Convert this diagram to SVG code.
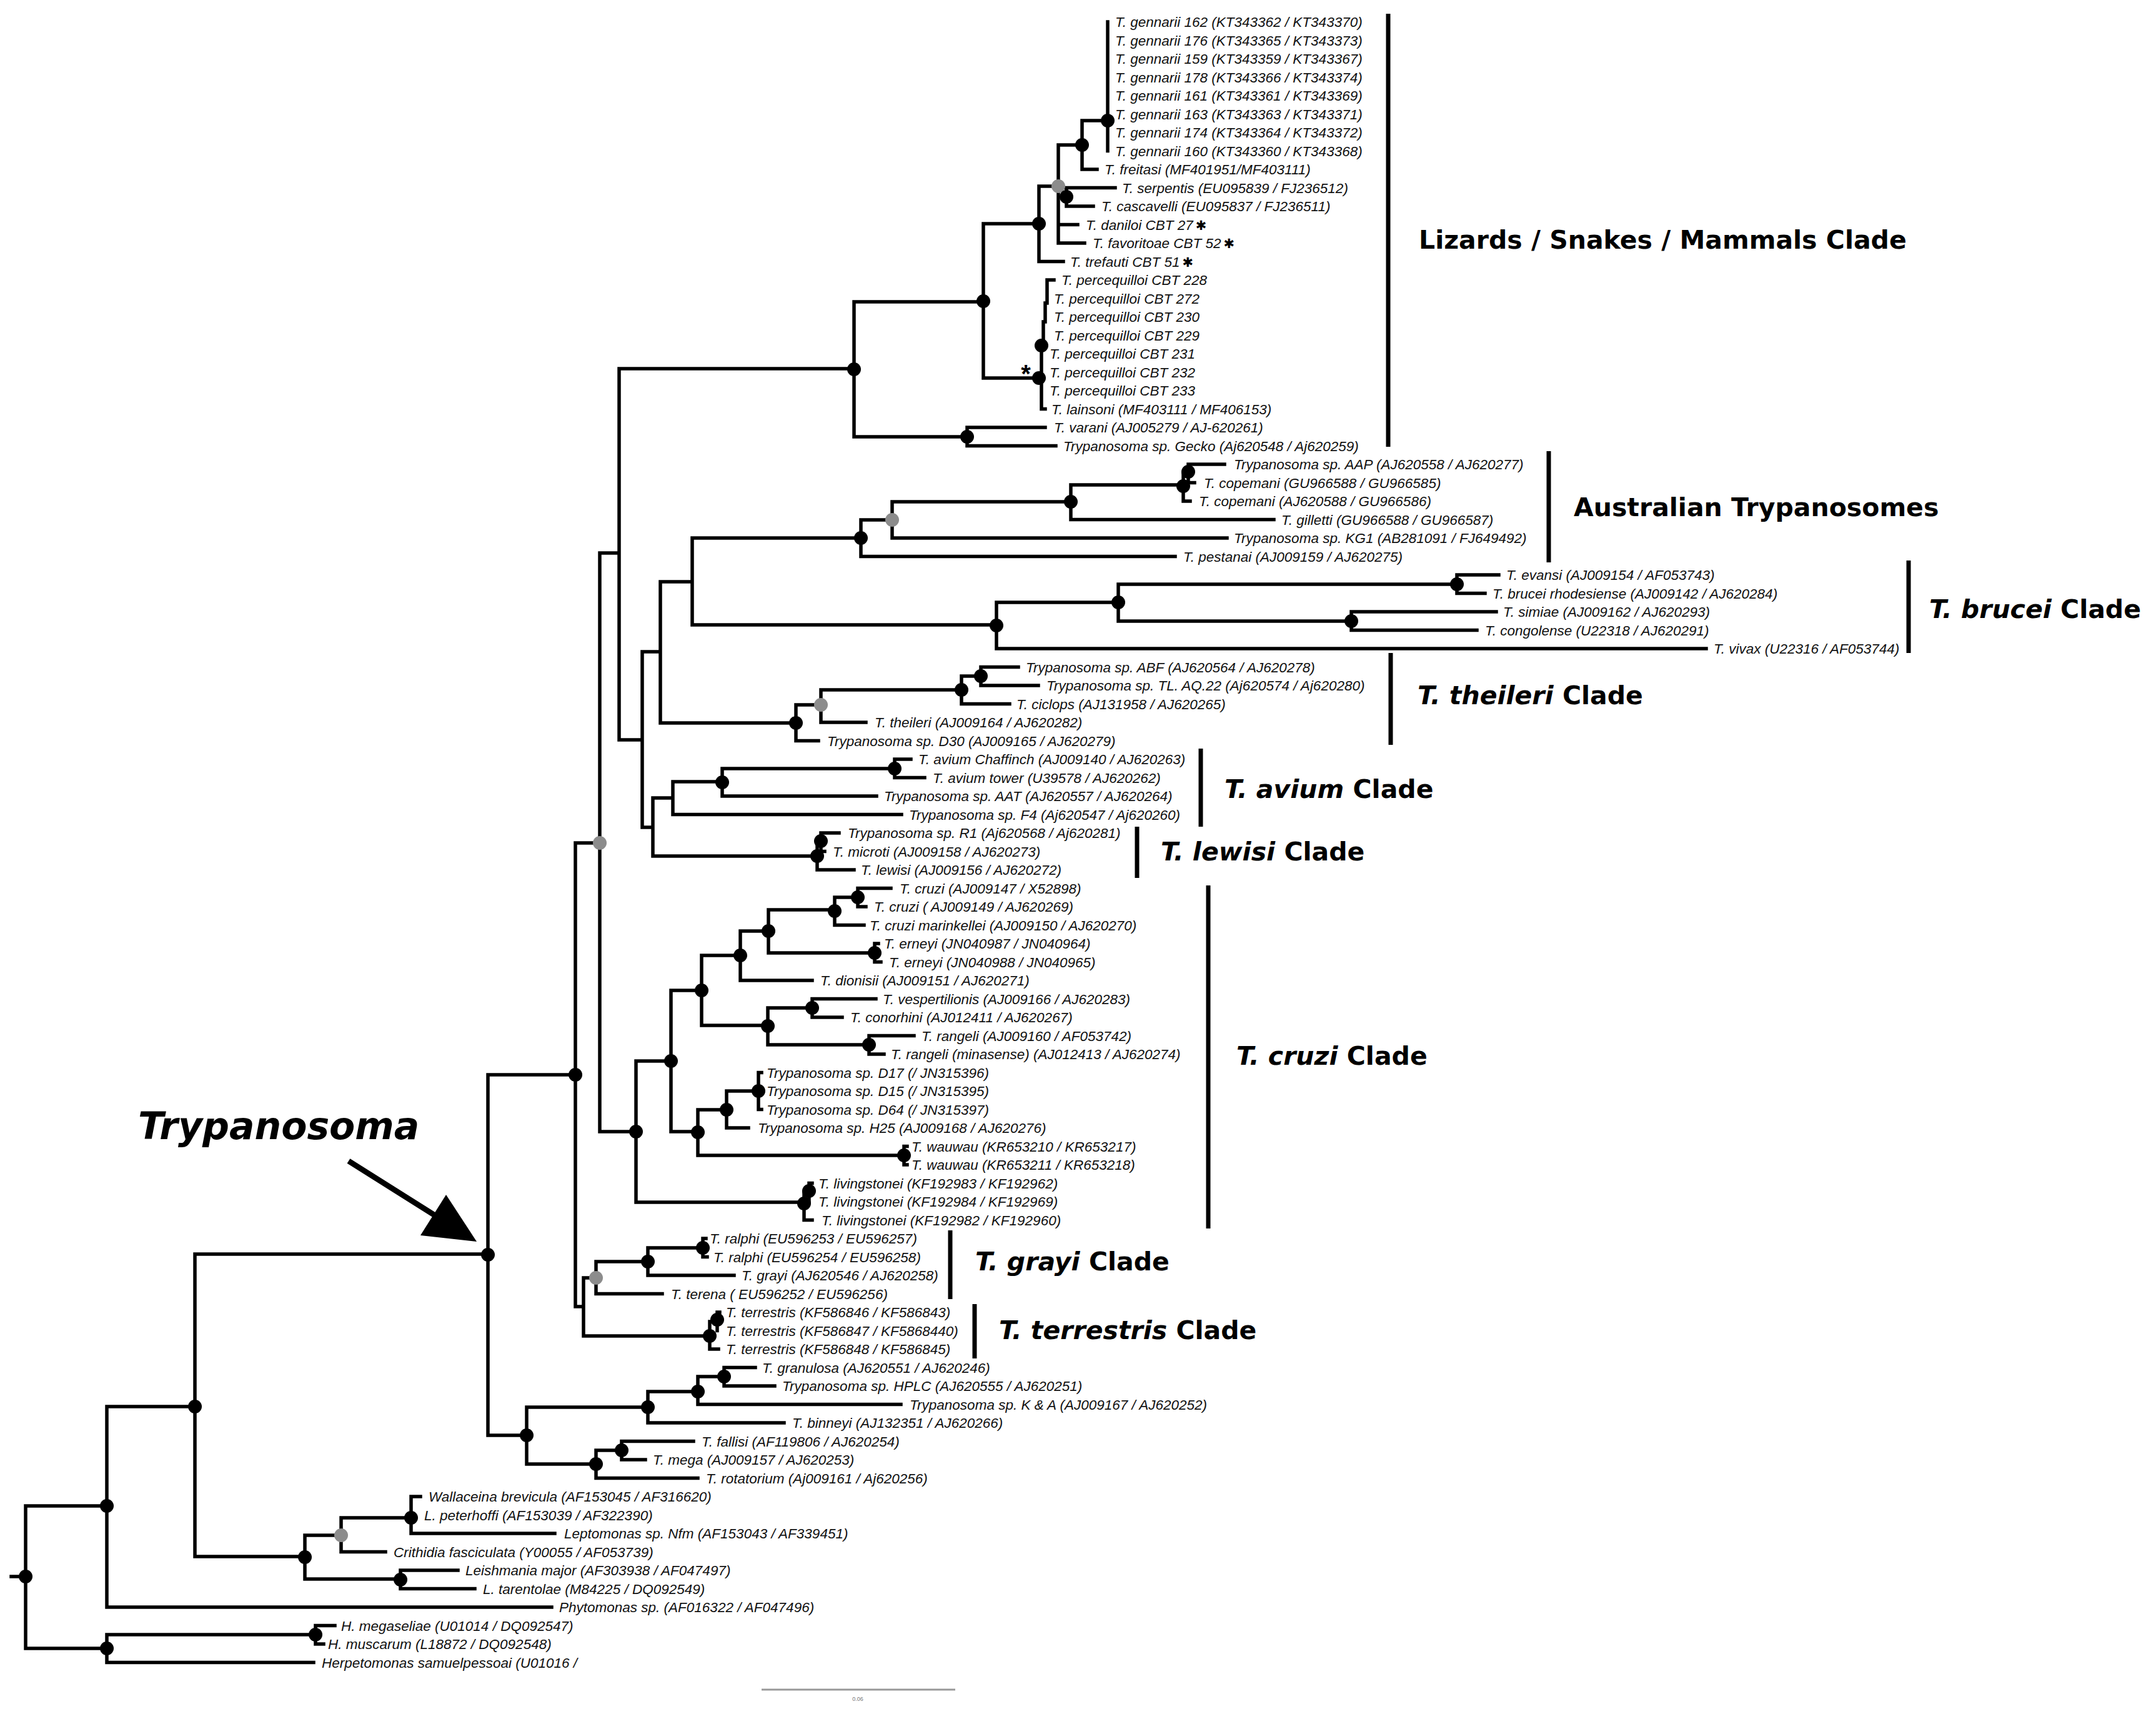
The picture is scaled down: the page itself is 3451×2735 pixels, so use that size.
<svg xmlns="http://www.w3.org/2000/svg" width="3451" height="2735" viewBox="0 0 3451 2735">
<style>
.br{fill:none;stroke:#000;stroke-width:5.5;stroke-linecap:square;stroke-linejoin:miter}
.bar{stroke:#000;stroke-width:7}
.d{fill:#000}
.g{fill:#8c8c8c}
.lf{font-family:"Liberation Sans",Arial,sans-serif;font-style:italic;font-size:22.5px;fill:#111}
.sx{font-family:"DejaVu Sans",sans-serif;font-style:normal;font-weight:bold;font-size:21px;fill:#000}
.cl{font-family:"DejaVu Sans",sans-serif;font-weight:bold;font-size:41px;fill:#000}
.ob{font-style:oblique}
.st{font-family:"Liberation Sans",Arial,sans-serif;font-weight:bold;font-size:40px;fill:#000;text-anchor:middle}
</style>
<rect width="3451" height="2735" fill="#fff"/>
<g id="connectors">
<path class="br" d="M18,2523 H41 M41,2410 V2638 M41,2410 H171 M41,2638 H171
M171,2251 V2572 H883 M171,2251 H312
M312,2007 V2491 H488 M312,2007 H781
M488,2457 V2527 H641 M488,2457 H546
M546,2429 V2483.5 H617 M546,2429 H658
M658,2395 V2454 H888 M658,2395 H673
M641,2513 V2542.5 H760 M641,2513 H733
M171,2616 V2660.5 H502 M171,2616 H505
M505,2601.5 V2631 H518 M505,2601.5 H536
M781,1720 V2297 H843 M781,1720 H921
M843,2252 V2343 H954 M843,2252 H1037
M1037,2227 V2277 H1255 M1037,2227 H1117
M1117,2203 V2247.5 H1442 M1117,2203 H1159
M1159,2188.5 V2218 H1240 M1159,2188.5 H1209
M954,2321 V2365.5 H1117 M954,2321 H995
M995,2306.5 V2336 H1033 M995,2306.5 H1110
M921,1349 V2091 H934 M921,1349 H960
M934,2045 V2138 H1136 M934,2045 H954
M954,2019 V2070.5 H1060 M954,2019 H1037
M1037,1997 V2041 H1175 M1037,1997 H1125
M1125,1982 V2011.5 H1132 M1125,1982 H1130
M1136,2115 V2159 H1150 M1136,2115 H1148 M1148,2100 V2129.5 M1148,2100 H1152
M960,885 V1811 H1018 M960,885 H991
M991,590 V1184 H1028 M991,590 H1367
M1028,1043 V1324 H1045 M1028,1043 H1057
M1057,931 V1157 H1274 M1057,931 H1108
M1108,861 V1000 H1595 M1108,861 H1378
M1378,832 V890.5 H1881 M1378,832 H1428
M1428,803 V861 H1964 M1428,803 H1714
M1714,776 V831.5 H2039 M1714,776 H1894
M1894,758 V802 H1905 M1894,758 H1902 M1902,743 V772.5 H1912 M1902,743 H1960
M1595,964 V1038 H2731 M1595,964 H1790
M1790,935 V994 H2163 M1790,935 H2332
M2332,920 V949.5 H2377 M2332,920 H2399
M2163,979 V1008.5 H2364 M2163,979 H2395
M1274,1128 V1185.5 H1310 M1274,1128 H1314
M1314,1104 V1156 H1386 M1314,1104 H1539
M1539,1082 V1126.5 H1616 M1539,1082 H1570
M1570,1067.5 V1097 H1662 M1570,1067.5 H1630
M1045,1277 V1370 H1308 M1045,1277 H1077
M1077,1251 V1303.5 H1443 M1077,1251 H1156
M1156,1230 V1274 H1403 M1156,1230 H1432
M1432,1215 V1244.5 H1480 M1432,1215 H1458
M1308,1348 V1392 H1367 M1308,1348 H1314
M1314,1333 V1362.5 H1320 M1314,1333 H1343
M1018,1698 V1924 H1287 M1018,1698 H1074
M1074,1585 V1811 H1117 M1074,1585 H1123
M1123,1529 V1641 H1229 M1123,1529 H1185
M1185,1490 V1569 H1300 M1185,1490 H1230
M1230,1456 V1525 H1400 M1230,1456 H1336
M1336,1436 V1480.5 H1383 M1336,1436 H1373
M1373,1421.5 V1451 H1386 M1373,1421.5 H1426
M1400,1510 V1539.5 H1410 M1400,1510 H1406
M1229,1613 V1672 H1391 M1229,1613 H1300
M1300,1598.5 V1628 H1348 M1300,1598.5 H1402
M1391,1657.5 V1687 H1415 M1391,1657.5 H1463
M1117,1776 V1849 H1447 M1117,1776 H1163
M1163,1746 V1805 H1198 M1163,1746 H1214
M1214,1716.5 V1775.5 H1219 M1214,1716.5 H1219
M1447,1834.5 V1864 H1452 M1447,1834.5 H1452
M1287,1908 V1952.5 H1300 M1287,1908 H1295 M1295,1893.5 V1923 M1295,1893.5 H1300
M1367,483 V699 H1548 M1367,483 H1574
M1548,684 V713.5 H1690 M1548,684 H1673
M1574,358 V605 H1663 M1574,358 H1663
M1663,298 V418.5 H1702 M1663,298 H1694
M1694,232 V389 H1736 M1694,232 H1732 M1694,300.5 H1785 M1694,359.5 H1725 M1707,300.5 V330 H1750
M1732,193 V271 H1756 M1732,193 H1773
M1773,35 V241.5
M1687,448 H1676 V485 H1673 V515 H1670 V545 H1667 V654.5 H1673"/>
</g>
<g id="node-dots">
<circle class="d" cx="41" cy="2523" r="11"/>
<circle class="d" cx="171" cy="2410" r="11"/>
<circle class="d" cx="171" cy="2638" r="11"/>
<circle class="d" cx="312" cy="2251" r="11"/>
<circle class="d" cx="488" cy="2492" r="11"/>
<circle class="g" cx="546" cy="2457" r="11"/>
<circle class="d" cx="658" cy="2429" r="11"/>
<circle class="d" cx="641" cy="2528" r="11"/>
<circle class="d" cx="505" cy="2616" r="11"/>
<circle class="d" cx="781" cy="2008" r="11"/>
<circle class="d" cx="843" cy="2297" r="11"/>
<circle class="d" cx="1037" cy="2252" r="11"/>
<circle class="d" cx="1117" cy="2227" r="11"/>
<circle class="d" cx="1159" cy="2203" r="11"/>
<circle class="d" cx="954" cy="2343" r="11"/>
<circle class="d" cx="995" cy="2321" r="11"/>
<circle class="d" cx="921" cy="1720" r="11"/>
<circle class="g" cx="954" cy="2045" r="11"/>
<circle class="d" cx="1037" cy="2019" r="11"/>
<circle class="d" cx="1125" cy="1997" r="11"/>
<circle class="d" cx="1148" cy="2112" r="11"/>
<circle class="d" cx="1136" cy="2138" r="11"/>
<circle class="g" cx="960" cy="1349" r="11"/>
<circle class="d" cx="1378" cy="861" r="11"/>
<circle class="g" cx="1428" cy="832" r="11"/>
<circle class="d" cx="1714" cy="803" r="11"/>
<circle class="d" cx="1894" cy="778" r="11"/>
<circle class="d" cx="1902" cy="755" r="11"/>
<circle class="d" cx="1595" cy="1001" r="11"/>
<circle class="d" cx="1790" cy="964" r="11"/>
<circle class="d" cx="2332" cy="935" r="11"/>
<circle class="d" cx="2163" cy="994" r="11"/>
<circle class="d" cx="1274" cy="1157" r="11"/>
<circle class="g" cx="1314" cy="1128" r="11"/>
<circle class="d" cx="1539" cy="1104" r="11"/>
<circle class="d" cx="1570" cy="1082" r="11"/>
<circle class="d" cx="1156" cy="1252" r="11"/>
<circle class="d" cx="1432" cy="1230" r="11"/>
<circle class="d" cx="1314" cy="1346" r="11"/>
<circle class="d" cx="1308" cy="1370" r="11"/>
<circle class="d" cx="1018" cy="1811" r="11"/>
<circle class="d" cx="1074" cy="1698" r="11"/>
<circle class="d" cx="1123" cy="1585" r="11"/>
<circle class="d" cx="1185" cy="1529" r="11"/>
<circle class="d" cx="1230" cy="1490" r="11"/>
<circle class="d" cx="1336" cy="1458" r="11"/>
<circle class="d" cx="1373" cy="1436" r="11"/>
<circle class="d" cx="1400" cy="1525" r="11"/>
<circle class="d" cx="1229" cy="1642" r="11"/>
<circle class="d" cx="1300" cy="1613" r="11"/>
<circle class="d" cx="1391" cy="1672" r="11"/>
<circle class="d" cx="1117" cy="1812" r="11"/>
<circle class="d" cx="1163" cy="1776" r="11"/>
<circle class="d" cx="1214" cy="1746" r="11"/>
<circle class="d" cx="1447" cy="1849" r="11"/>
<circle class="d" cx="1295" cy="1906" r="11"/>
<circle class="d" cx="1287" cy="1926" r="11"/>
<circle class="d" cx="1367" cy="591" r="11"/>
<circle class="d" cx="1548" cy="699" r="11"/>
<circle class="d" cx="1574" cy="482" r="11"/>
<circle class="d" cx="1663" cy="358" r="11"/>
<circle class="g" cx="1694" cy="298" r="11"/>
<circle class="d" cx="1707" cy="315" r="11"/>
<circle class="d" cx="1732" cy="232" r="11"/>
<circle class="d" cx="1773" cy="193" r="11"/>
<circle class="d" cx="1667" cy="553" r="11"/>
<circle class="d" cx="1663" cy="605" r="11"/>
</g>
<g id="leaves">
<g id="leaf-1"><text class="lf" x="1785" y="43">T. gennarii 162 (KT343362 / KT343370)</text></g>
<g id="leaf-2"><text class="lf" x="1785" y="72.5">T. gennarii 176 (KT343365 / KT343373)</text></g>
<g id="leaf-3"><text class="lf" x="1785" y="102">T. gennarii 159 (KT343359 / KT343367)</text></g>
<g id="leaf-4"><text class="lf" x="1785" y="131.5">T. gennarii 178 (KT343366 / KT343374)</text></g>
<g id="leaf-5"><text class="lf" x="1785" y="161">T. gennarii 161 (KT343361 / KT343369)</text></g>
<g id="leaf-6"><text class="lf" x="1785" y="190.5">T. gennarii 163 (KT343363 / KT343371)</text></g>
<g id="leaf-7"><text class="lf" x="1785" y="220">T. gennarii 174 (KT343364 / KT343372)</text></g>
<g id="leaf-8"><text class="lf" x="1785" y="249.5">T. gennarii 160 (KT343360 / KT343368)</text></g>
<g id="leaf-9"><text class="lf" x="1768" y="279">T. freitasi (MF401951/MF403111)</text></g>
<g id="leaf-10"><text class="lf" x="1796" y="308.5">T. serpentis (EU095839 / FJ236512)</text></g>
<g id="leaf-11"><text class="lf" x="1763" y="338">T. cascavelli (EU095837 / FJ236511)</text></g>
<g id="leaf-12"><text class="lf" x="1738" y="367.5">T. daniloi CBT 27<tspan class="sx" dx="4">✱</tspan></text></g>
<g id="leaf-13"><text class="lf" x="1749" y="397">T. favoritoae CBT 52<tspan class="sx" dx="4">✱</tspan></text></g>
<g id="leaf-14"><text class="lf" x="1713" y="426.5">T. trefauti CBT 51<tspan class="sx" dx="4">✱</tspan></text></g>
<g id="leaf-15"><text class="lf" x="1699" y="456">T. percequilloi CBT 228</text></g>
<g id="leaf-16"><text class="lf" x="1687" y="485.5">T. percequilloi CBT 272</text></g>
<g id="leaf-17"><text class="lf" x="1687" y="515">T. percequilloi CBT 230</text></g>
<g id="leaf-18"><text class="lf" x="1687" y="544.5">T. percequilloi CBT 229</text></g>
<g id="leaf-19"><text class="lf" x="1680" y="574">T. percequilloi CBT 231</text></g>
<g id="leaf-20"><text class="lf" x="1680" y="603.5">T. percequilloi CBT 232</text></g>
<g id="leaf-21"><text class="lf" x="1680" y="633">T. percequilloi CBT 233</text></g>
<g id="leaf-22"><text class="lf" x="1683" y="662.5">T. lainsoni (MF403111 / MF406153)</text></g>
<g id="leaf-23"><text class="lf" x="1687" y="692">T. varani (AJ005279 / AJ-620261)</text></g>
<g id="leaf-24"><text class="lf" x="1702" y="721.5">Trypanosoma sp. Gecko (Aj620548 / Aj620259)</text></g>
<g id="leaf-25"><text class="lf" x="1975" y="751">Trypanosoma sp. AAP (AJ620558 / AJ620277)</text></g>
<g id="leaf-26"><text class="lf" x="1927" y="780.5">T. copemani (GU966588 / GU966585)</text></g>
<g id="leaf-27"><text class="lf" x="1919" y="810">T. copemani (AJ620588 / GU966586)</text></g>
<g id="leaf-28"><text class="lf" x="2051" y="839.5">T. gilletti (GU966588 / GU966587)</text></g>
<g id="leaf-29"><text class="lf" x="1975" y="869">Trypanosoma sp. KG1 (AB281091 / FJ649492)</text></g>
<g id="leaf-30"><text class="lf" x="1894" y="898.5">T. pestanai (AJ009159 / AJ620275)</text></g>
<g id="leaf-31"><text class="lf" x="2411" y="928">T. evansi (AJ009154 / AF053743)</text></g>
<g id="leaf-32"><text class="lf" x="2389" y="957.5">T. brucei rhodesiense (AJ009142 / AJ620284)</text></g>
<g id="leaf-33"><text class="lf" x="2406" y="987">T. simiae (AJ009162 / AJ620293)</text></g>
<g id="leaf-34"><text class="lf" x="2377" y="1016.5">T. congolense (U22318 / AJ620291)</text></g>
<g id="leaf-35"><text class="lf" x="2743" y="1046">T. vivax (U22316 / AF053744)</text></g>
<g id="leaf-36"><text class="lf" x="1642" y="1075.5">Trypanosoma sp. ABF (AJ620564 / AJ620278)</text></g>
<g id="leaf-37"><text class="lf" x="1675" y="1105">Trypanosoma sp. TL. AQ.22 (Aj620574 / Aj620280)</text></g>
<g id="leaf-38"><text class="lf" x="1627" y="1134.5">T. ciclops (AJ131958 / AJ620265)</text></g>
<g id="leaf-39"><text class="lf" x="1400" y="1164">T. theileri (AJ009164 / AJ620282)</text></g>
<g id="leaf-40"><text class="lf" x="1324" y="1193.5">Trypanosoma sp. D30 (AJ009165 / AJ620279)</text></g>
<g id="leaf-41"><text class="lf" x="1470" y="1223">T. avium Chaffinch (AJ009140 / AJ620263)</text></g>
<g id="leaf-42"><text class="lf" x="1493" y="1252.5">T. avium tower (U39578 / AJ620262)</text></g>
<g id="leaf-43"><text class="lf" x="1415" y="1282">Trypanosoma sp. AAT (AJ620557 / AJ620264)</text></g>
<g id="leaf-44"><text class="lf" x="1455" y="1311.5">Trypanosoma sp. F4 (Aj620547 / Aj620260)</text></g>
<g id="leaf-45"><text class="lf" x="1357" y="1341">Trypanosoma sp. R1 (Aj620568 / Aj620281)</text></g>
<g id="leaf-46"><text class="lf" x="1333" y="1370.5">T. microti (AJ009158 / AJ620273)</text></g>
<g id="leaf-47"><text class="lf" x="1378" y="1400">T. lewisi (AJ009156 / AJ620272)</text></g>
<g id="leaf-48"><text class="lf" x="1440" y="1429.5">T. cruzi (AJ009147 / X52898)</text></g>
<g id="leaf-49"><text class="lf" x="1399" y="1459">T. cruzi ( AJ009149 / AJ620269)</text></g>
<g id="leaf-50"><text class="lf" x="1392" y="1488.5">T. cruzi marinkellei (AJ009150 / AJ620270)</text></g>
<g id="leaf-51"><text class="lf" x="1415" y="1518">T. erneyi (JN040987 / JN040964)</text></g>
<g id="leaf-52"><text class="lf" x="1423" y="1547.5">T. erneyi (JN040988 / JN040965)</text></g>
<g id="leaf-53"><text class="lf" x="1313" y="1577">T. dionisii (AJ009151 / AJ620271)</text></g>
<g id="leaf-54"><text class="lf" x="1413" y="1606.5">T. vespertilionis (AJ009166 / AJ620283)</text></g>
<g id="leaf-55"><text class="lf" x="1361" y="1636">T. conorhini (AJ012411 / AJ620267)</text></g>
<g id="leaf-56"><text class="lf" x="1475" y="1665.5">T. rangeli (AJ009160 / AF053742)</text></g>
<g id="leaf-57"><text class="lf" x="1426" y="1695">T. rangeli (minasense) (AJ012413 / AJ620274)</text></g>
<g id="leaf-58"><text class="lf" x="1227" y="1724.5">Trypanosoma sp. D17 (/ JN315396)</text></g>
<g id="leaf-59"><text class="lf" x="1227" y="1754">Trypanosoma sp. D15 (/ JN315395)</text></g>
<g id="leaf-60"><text class="lf" x="1227" y="1783.5">Trypanosoma sp. D64 (/ JN315397)</text></g>
<g id="leaf-61"><text class="lf" x="1213" y="1813">Trypanosoma sp. H25 (AJ009168 / AJ620276)</text></g>
<g id="leaf-62"><text class="lf" x="1459" y="1842.5">T. wauwau (KR653210 / KR653217)</text></g>
<g id="leaf-63"><text class="lf" x="1459" y="1872">T. wauwau (KR653211 / KR653218)</text></g>
<g id="leaf-64"><text class="lf" x="1310" y="1901.5">T. livingstonei (KF192983 / KF192962)</text></g>
<g id="leaf-65"><text class="lf" x="1310" y="1931">T. livingstonei (KF192984 / KF192969)</text></g>
<g id="leaf-66"><text class="lf" x="1315" y="1960.5">T. livingstonei (KF192982 / KF192960)</text></g>
<g id="leaf-67"><text class="lf" x="1136" y="1990">T. ralphi (EU596253 / EU596257)</text></g>
<g id="leaf-68"><text class="lf" x="1142" y="2019.5">T. ralphi (EU596254 / EU596258)</text></g>
<g id="leaf-69"><text class="lf" x="1187" y="2049">T. grayi (AJ620546 / AJ620258)</text></g>
<g id="leaf-70"><text class="lf" x="1074" y="2078.5">T. terena ( EU596252 / EU596256)</text></g>
<g id="leaf-71"><text class="lf" x="1162" y="2108">T. terrestris (KF586846 / KF586843)</text></g>
<g id="leaf-72"><text class="lf" x="1162" y="2137.5">T. terrestris (KF586847 / KF5868440)</text></g>
<g id="leaf-73"><text class="lf" x="1162" y="2167">T. terrestris (KF586848 / KF586845)</text></g>
<g id="leaf-74"><text class="lf" x="1220" y="2196.5">T. granulosa (AJ620551 / AJ620246)</text></g>
<g id="leaf-75"><text class="lf" x="1252" y="2226">Trypanosoma sp. HPLC (AJ620555 / AJ620251)</text></g>
<g id="leaf-76"><text class="lf" x="1456" y="2255.5">Trypanosoma sp. K &amp; A (AJ009167 / AJ620252)</text></g>
<g id="leaf-77"><text class="lf" x="1268" y="2285">T. binneyi (AJ132351 / AJ620266)</text></g>
<g id="leaf-78"><text class="lf" x="1123" y="2314.5">T. fallisi (AF119806 / AJ620254)</text></g>
<g id="leaf-79"><text class="lf" x="1045" y="2344">T. mega (AJ009157 / AJ620253)</text></g>
<g id="leaf-80"><text class="lf" x="1130" y="2373.5">T. rotatorium (Aj009161 / Aj620256)</text></g>
<g id="leaf-81"><text class="lf" x="686" y="2403">Wallaceina brevicula (AF153045 / AF316620)</text></g>
<g id="leaf-82"><text class="lf" x="679" y="2432.5">L. peterhoffi (AF153039 / AF322390)</text></g>
<g id="leaf-83"><text class="lf" x="903" y="2462">Leptomonas sp. Nfm (AF153043 / AF339451)</text></g>
<g id="leaf-84"><text class="lf" x="630" y="2491.5">Crithidia fasciculata (Y00055 / AF053739)</text></g>
<g id="leaf-85"><text class="lf" x="745" y="2521">Leishmania major (AF303938 / AF047497)</text></g>
<g id="leaf-86"><text class="lf" x="773" y="2550.5">L. tarentolae (M84225 / DQ092549)</text></g>
<g id="leaf-87"><text class="lf" x="895" y="2580">Phytomonas sp. (AF016322 / AF047496)</text></g>
<g id="leaf-88"><text class="lf" x="546" y="2609.5">H. megaseliae (U01014 / DQ092547)</text></g>
<g id="leaf-89"><text class="lf" x="525" y="2639">H. muscarum (L18872 / DQ092548)</text></g>
<g id="leaf-90"><text class="lf" x="515" y="2668.5">Herpetomonas samuelpessoai (U01016 /</text></g>
</g>
<g id="percequilloi-mark"><text class="st" x="1642" y="612">*</text></g>
<g id="clade-lizards"><line class="bar" x1="2222" y1="22" x2="2222" y2="715"/><text class="cl" x="2271" y="398">Lizards / Snakes / Mammals Clade</text></g>
<g id="clade-australian"><line class="bar" x1="2479" y1="722" x2="2479" y2="900"/><text class="cl" x="2519" y="826">Australian Trypanosomes</text></g>
<g id="clade-brucei"><line class="bar" x1="3055" y1="897" x2="3055" y2="1045"/><text class="cl" x="3088" y="989"><tspan class="ob">T. brucei</tspan> Clade</text></g>
<g id="clade-theileri"><line class="bar" x1="2226" y1="1045" x2="2226" y2="1192"/><text class="cl" x="2269" y="1127"><tspan class="ob">T. theileri</tspan> Clade</text></g>
<g id="clade-avium"><line class="bar" x1="1922" y1="1198" x2="1922" y2="1323"/><text class="cl" x="1960" y="1277"><tspan class="ob">T. avium</tspan> Clade</text></g>
<g id="clade-lewisi"><line class="bar" x1="1820" y1="1323" x2="1820" y2="1405"/><text class="cl" x="1858" y="1377"><tspan class="ob">T. lewisi</tspan> Clade</text></g>
<g id="clade-cruzi"><line class="bar" x1="1934" y1="1417" x2="1934" y2="1966"/><text class="cl" x="1979" y="1704"><tspan class="ob">T. cruzi</tspan> Clade</text></g>
<g id="clade-grayi"><line class="bar" x1="1521" y1="1969" x2="1521" y2="2079"/><text class="cl" x="1561" y="2033"><tspan class="ob">T. grayi</tspan> Clade</text></g>
<g id="clade-terrestris"><line class="bar" x1="1560" y1="2087" x2="1560" y2="2174"/><text class="cl" x="1599" y="2143"><tspan class="ob">T. terrestris</tspan> Clade</text></g>
<g id="trypanosoma-label">
<text x="221" y="1823" style="font-family:'DejaVu Sans',sans-serif;font-weight:bold;font-style:oblique;font-size:60px;fill:#000">Trypanosoma</text>
<line x1="558" y1="1858" x2="712" y2="1955" stroke="#000" stroke-width="9"/>
<polygon points="714,1912 673,1977 763,1987" fill="#000"/>
</g>
<g id="scale-bar">
<line x1="1219" y1="2704" x2="1529" y2="2704" stroke="#999" stroke-width="3"/>
<text x="1373" y="2722" style="font-family:'Liberation Sans',Arial,sans-serif;font-size:9px;fill:#777;text-anchor:middle">0.06</text>
</g>
</svg>
